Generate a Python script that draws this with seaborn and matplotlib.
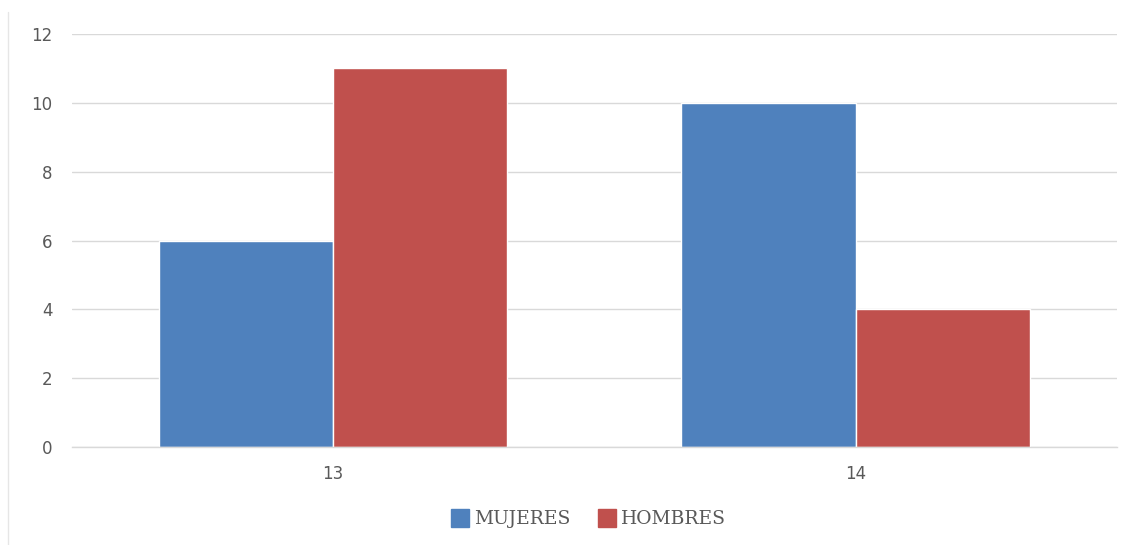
import pandas as pd
import matplotlib.pyplot as plt
import seaborn as sns
from matplotlib.lines import Line2D

# chart data
ages = ['13', '14']
mujeres = [6, 10]
hombres = [11, 4]
series_names = ['MUJERES', 'HOMBRES']
colors = ['#4F81BD', '#C0504D']
y_ticks = [0, 2, 4, 6, 8, 10, 12]

df = pd.DataFrame({
    'edad': ages * 2,
    'valor': mujeres + hombres,
    'serie': [series_names[0]] * len(ages) + [series_names[1]] * len(ages),
})

sns.set_theme(style='white')
plt.rcParams['font.family'] = ['DejaVu Sans']

fig = plt.figure(figsize=(11.28, 5.45), dpi=100)
ax = fig.add_axes([0.0638, 0.1798, 0.9262, 0.7578])

sns.barplot(data=df, x='edad', y='valor', hue='serie', palette=colors,
            width=0.667, saturation=1, ax=ax, legend=False)

ax.set_xlim(-0.5, 1.5)
ax.set_ylim(0, 12)
ax.set_yticks(y_ticks)
ax.set_xlabel('')
ax.set_ylabel('')
ax.yaxis.grid(True, color='#D9D9D9', linewidth=1)
ax.set_axisbelow(True)
for s in ['top', 'right', 'left']:
    ax.spines[s].set_visible(False)
ax.spines['bottom'].set_color('#D9D9D9')
ax.spines['bottom'].set_linewidth(1)
ax.tick_params(axis='both', length=0, colors='#595959', labelsize=12)
ax.tick_params(axis='y', pad=14)
ax.tick_params(axis='x', pad=13)

# legend below the plot
handles = [Line2D([0], [0], marker='s', linestyle='', markersize=12.5,
                  markerfacecolor=c, markeredgecolor=c) for c in colors]
leg = fig.legend(handles, series_names, loc='center', bbox_to_anchor=(0.522, 0.047),
                 ncol=2, frameon=False, handlelength=0.9, handletextpad=0.3,
                 columnspacing=1.45, prop={'family': 'DejaVu Serif', 'size': 13.5})
for t in leg.get_texts():
    t.set_color('#595959')

# thin frame line at the left edge
fig.add_artist(Line2D([8 / 1128, 8 / 1128], [0, 1 - 12 / 545],
                      transform=fig.transFigure, color='#E6E6E6', linewidth=1))

fig.savefig('out.png', dpi=100)
